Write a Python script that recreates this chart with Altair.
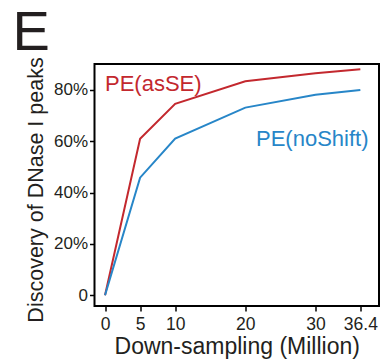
import altair as alt
import pandas as pd

x_vals = [0, 5, 10, 20, 30, 36.4]
pe_asse = [0, 61.0, 74.6, 83.4, 86.5, 88.1]
pe_noshift = [0, 45.8, 61.0, 73.1, 78.1, 80.0]
series_names = ["PE(asSE)", "PE(noShift)"]
x_ticks = [0, 5, 10, 20, 30, 36.4]
y_ticks = [0, 20, 40, 60, 80]

RED = "#c3282e"
BLUE = "#2786c8"
INK = "#231f20"
FONT = "Liberation Sans"

rows = []
for xv, a, b in zip(x_vals, pe_asse, pe_noshift):
    rows.append({"x": xv, "y": a, "series": series_names[0]})
    rows.append({"x": xv, "y": b, "series": series_names[1]})
df = pd.DataFrame(rows)

W = 284.5
H = 242

xs = alt.Scale(domain=[-1.5, 39.06], nice=False, zero=False)
ys = alt.Scale(domain=[-4.2, 90.1], nice=False, zero=False)

lines = alt.Chart(df).mark_line(strokeWidth=2, clip=False).encode(
    x=alt.X("x:Q", scale=xs,
            axis=alt.Axis(values=x_ticks, title="Down-sampling (Million)",
                          labelExpr="datum.value == 36.4 ? '36.4' : format(datum.value, 'd')",
                          labelFontSize=17.5, labelPadding=4, labelFlush=False,
                          labelOverlap=False,
                          titleFontSize=23, titleX=W / 2, titleY=47,
                          titleBaseline="alphabetic", titleAlign="center")),
    y=alt.Y("y:Q", scale=ys,
            axis=alt.Axis(values=y_ticks, title="Discovery of DNase I peaks",
                          labelExpr="datum.value == 0 ? '0' : datum.value + '%'",
                          labelFontSize=17, labelPadding=2,
                          titleFontSize=21.5, titleAngle=270, titleX=-58.5,
                          titleY=125.5, titleAlign="center", titleBaseline="middle")),
    color=alt.Color("series:N", scale=alt.Scale(domain=series_names, range=[RED, BLUE]),
                    legend=None),
    detail="series:N",
)

lab_df = pd.DataFrame({"series": series_names})

lab1 = alt.Chart(lab_df).transform_filter(
    alt.datum.series == series_names[0]
).mark_text(font=FONT, fontSize=22, align="left", baseline="alphabetic", color=RED).encode(
    x=alt.value(10.5), y=alt.value(27), text="series:N"
)
lab2 = alt.Chart(lab_df).transform_filter(
    alt.datum.series == series_names[1]
).mark_text(font=FONT, fontSize=22, align="left", baseline="alphabetic", color=BLUE).encode(
    x=alt.value(161.5), y=alt.value(82), text="series:N"
)

panel = alt.Chart(pd.DataFrame({"t": ["E"]})).mark_text(
    font=FONT, fontSize=56, align="left", baseline="alphabetic", color=INK
).encode(x=alt.value(-82), y=alt.value(-14), text="t:N")

chart = alt.layer(lines, lab1, lab2, panel).properties(
    width=W, height=H,
    autosize=alt.AutoSizeParams(type="none"),
    padding={"left": 94.5, "top": 64, "right": 7, "bottom": 54},
    background="white",
).configure_view(
    stroke="black", strokeWidth=2
).configure_axis(
    domain=False, grid=False, ticks=True, tickColor="black", tickWidth=1.5, tickSize=5,
    labelFont=FONT, titleFont=FONT, labelColor=INK, titleColor=INK,
    titleFontWeight="normal",
)

chart.save("out.html", embed_options={"renderer": "svg", "actions": False})
